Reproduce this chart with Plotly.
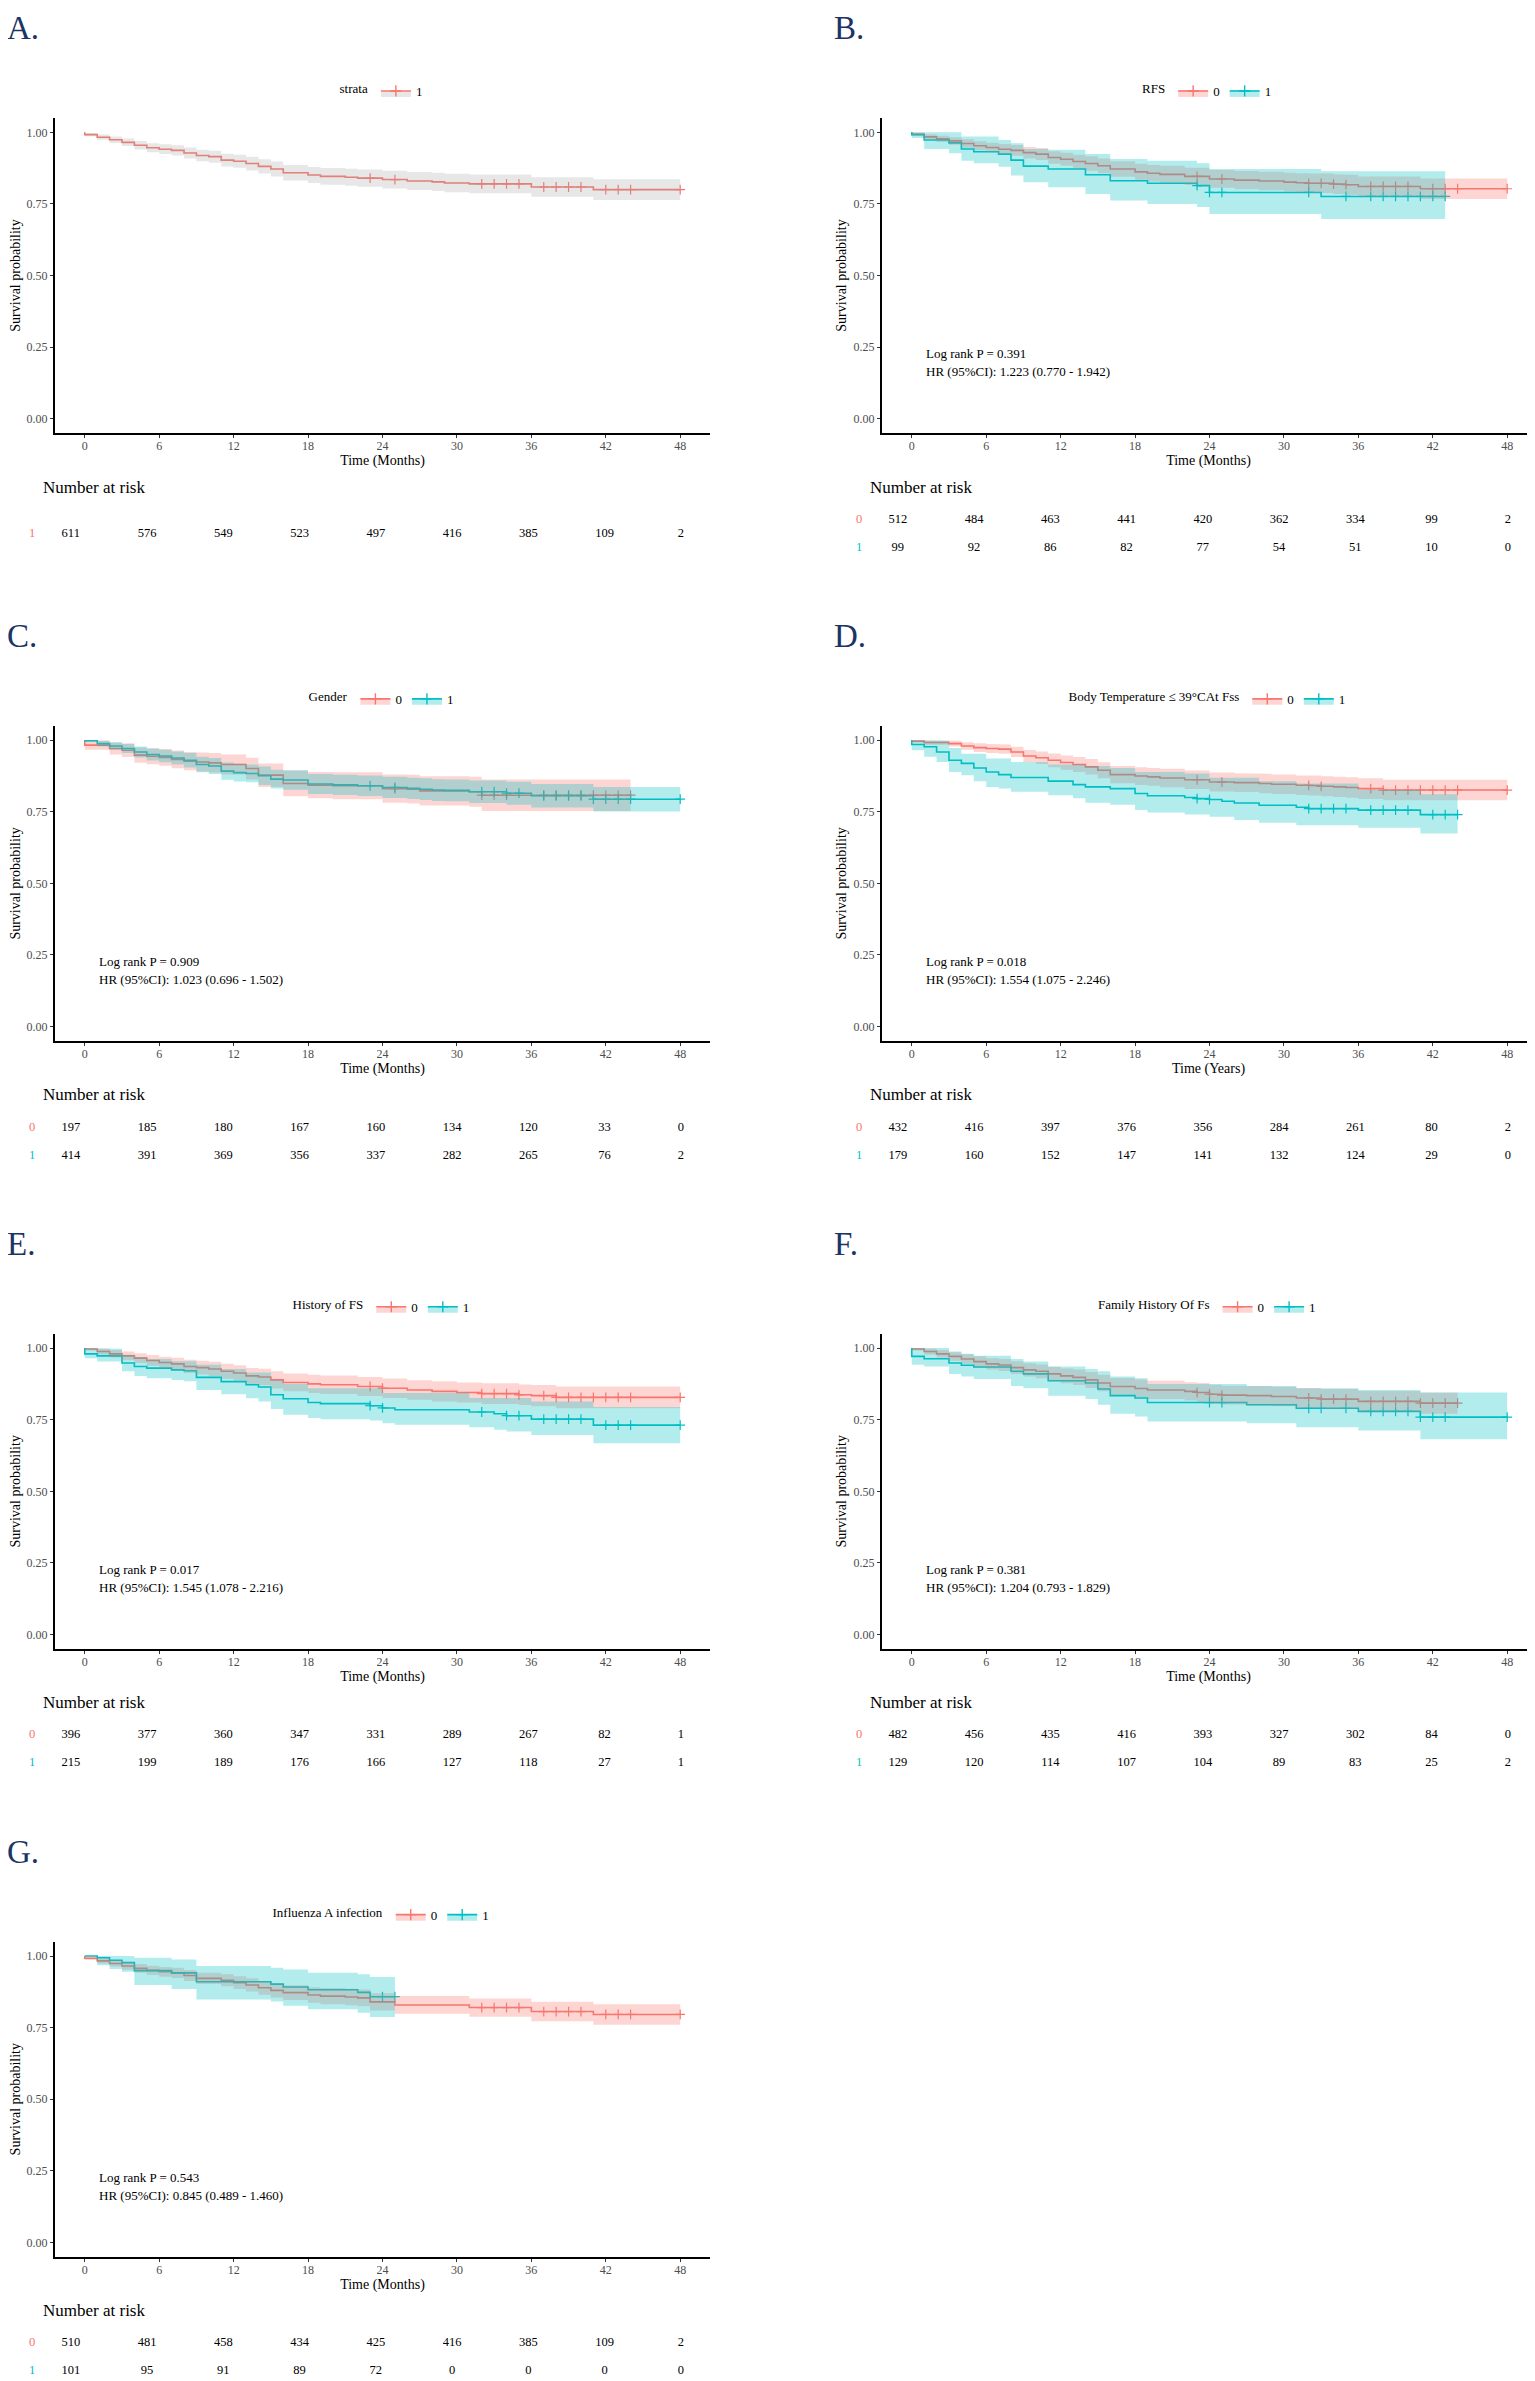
import plotly.graph_objects as go

# The page body has an 8px margin, so the figure is drawn 8px smaller and all pixel
# positions below are given in screen pixels and shifted by OFF.
OFF = 8
W, H = 1535 - OFF, 2381 - OFF
FONT = "Liberation Serif"
RED, TEAL = "#F8766D", "#00BFC4"
RED_FILL, TEAL_FILL, GRAY_FILL = "rgba(248,118,109,0.3)", "rgba(0,191,196,0.3)", "rgba(160,160,160,0.25)"

# ---------------- data ----------------
risk_times = [0, 6, 12, 18, 24, 30, 36, 42, 48]
y_tick_vals = [0, 0.25, 0.5, 0.75, 1.0]
y_tick_text = ["0.00", "0.25", "0.50", "0.75", "1.00"]

# A. strata 1
A_t = [0,1,2,3,4,5,6,7,8,9,10,11,12,13,14,15,16,18,19,21,22,24,26,28,29,31,36,41]
A_s = [.992,.983,.974,.965,.955,.946,.941,.937,.928,.919,.915,.903,.899,.891,.881,.872,.859,.851,.846,.843,.840,.835,.830,.827,.823,.820,.809,.800]
A_h = [.006,.009,.011,.013,.015,.016,.017,.018,.019,.020,.021,.022,.023,.024,.025,.026,.027,.028,.029,.030,.030,.031,.031,.032,.032,.033,.034,.036]
A_cens = [23,25,32,33,34,35,37,38,39,40,42,43,44,48]
A_risk = [611,576,549,523,497,416,385,109,2]

# B. RFS
B0_t = [0,1,2,3,4,5,6,7,8,9,10,11,12,13,14,15,16,18,19,20,22,24,26,28,30,31,32,34,35,36,41]
B0_s = [.993,.984,.977,.970,.961,.953,.947,.941,.937,.929,.924,.912,.906,.898,.891,.883,.872,.862,.857,.853,.846,.837,.833,.830,.826,.824,.822,.819,.817,.811,.803]
B0_h = [.006,.009,.011,.013,.015,.016,.017,.018,.019,.020,.021,.022,.023,.024,.025,.026,.027,.028,.029,.030,.030,.031,.032,.032,.033,.033,.034,.034,.035,.035,.036]
B0_cens = [23,25,32,33,34,35,37,38,39,40,42,43,44,48]
B0_risk = [512,484,463,441,420,362,334,99,2]
B1_t = [0,1,3,4,5,7,8,9,11,14,16,19,23,24,33]
B1_s = [.992,.973,.963,.942,.932,.924,.903,.882,.872,.852,.831,.822,.814,.790,.776]
B1_lo = [.980,.942,.927,.901,.892,.880,.849,.826,.808,.785,.762,.750,.739,.715,.697]
B1_hi = [1.0,1.0,1.0,.985,.985,.973,.962,.942,.939,.924,.907,.901,.892,.872,.864]
B1_cens = [23,24,25,32,35,37,38,39,40,41,42,43]
B1_risk = [99,92,86,82,77,54,51,10,0]

# C. Gender
C0_t = [0,2,3,4,5,6,7,8,9,10,11,13,14,16,18,20,24,26,27,31,32]
C0_s = [.983,.971,.965,.948,.944,.940,.933,.927,.924,.921,.915,.901,.878,.849,.843,.841,.831,.829,.823,.820,.808]
C0_h = [.016,.021,.024,.027,.028,.029,.031,.032,.033,.034,.035,.038,.041,.045,.046,.047,.049,.050,.051,.052,.055]
C0_cens = [25,32,33,34,37,38,39,40,41,42,43,44]
C0_risk = [197,185,180,167,160,134,120,33,0]
C1_t = [0,1,2,3,4,5,6,7,8,9,10,11,12,13,14,15,16,18,20,22,24,26,27,28,29,31,34,36,41]
C1_s = [.998,.988,.980,.971,.959,.950,.945,.938,.930,.915,.910,.892,.887,.884,.876,.864,.861,.847,.844,.841,.835,.832,.829,.826,.825,.820,.815,.806,.794]
C1_h = [.004,.010,.013,.016,.019,.021,.022,.023,.025,.027,.028,.030,.031,.031,.032,.033,.034,.035,.035,.036,.037,.037,.038,.038,.038,.039,.040,.041,.043]
C1_cens = [23,25,32,33,34,35,37,38,39,40,41,42,43,44,48]
C1_risk = [414,391,369,356,337,282,265,76,2]

# D. Body temperature
D0_t = [0,1,3,4,5,6,7,8,9,10,11,12,13,14,15,16,18,19,20,22,24,26,28,29,31,32,33,34,35,36,38]
D0_s = [.997,.992,.988,.980,.974,.971,.969,.959,.945,.939,.930,.922,.915,.907,.895,.880,.875,.872,.868,.862,.854,.852,.849,.846,.843,.842,.839,.837,.835,.831,.826]
D0_h = [.005,.008,.010,.013,.015,.016,.016,.018,.021,.022,.024,.025,.026,.027,.028,.030,.031,.031,.032,.032,.033,.033,.034,.034,.034,.035,.035,.035,.036,.036,.036]
D0_cens = [23,25,32,33,37,38,39,40,41,42,43,44,48]
D0_risk = [432,416,397,376,356,284,261,80,2]
D1_t = [0,1,2,3,4,5,6,7,8,11,13,14,16,18,19,22,23,24,25,26,28,31,32,36,41]
D1_s = [.985,.977,.959,.930,.919,.903,.889,.880,.870,.857,.845,.837,.831,.814,.806,.800,.796,.793,.787,.781,.773,.766,.761,.756,.740]
D1_lo = [.965,.942,.924,.889,.878,.857,.837,.831,.820,.808,.797,.782,.775,.756,.748,.741,.741,.733,.733,.721,.712,.703,.703,.694,.674]
D1_hi = [1.0,1.0,.998,.973,.953,.953,.936,.936,.924,.915,.915,.910,.903,.889,.889,.884,.884,.869,.869,.869,.857,.849,.849,.826,.811]
D1_cens = [23,24,32,33,34,35,37,38,39,40,42,43,44]
D1_risk = [179,160,152,147,141,132,124,29,0]

# E. History of FS
E0_t = [0,1,2,3,4,5,6,7,8,9,10,11,12,13,14,15,16,18,19,22,24,26,28,30,32,35,36,38]
E0_s = [.997,.988,.980,.973,.965,.957,.950,.945,.936,.932,.927,.919,.913,.903,.899,.889,.880,.875,.872,.866,.860,.854,.849,.845,.841,.837,.834,.828]
E0_h = [.005,.010,.013,.015,.017,.019,.020,.021,.023,.024,.025,.026,.027,.028,.029,.030,.031,.032,.032,.033,.034,.034,.035,.035,.036,.036,.037,.038]
E0_cens = [23,24,32,33,34,35,37,38,39,40,41,42,43,44,48]
E0_risk = [396,377,360,347,331,289,267,82,1]
E1_t = [0,1,3,4,5,7,8,9,11,13,14,15,16,18,19,23,24,25,31,33,34,36,41]
E1_s = [.980,.973,.948,.936,.930,.924,.921,.898,.883,.872,.864,.837,.823,.810,.806,.799,.791,.785,.777,.771,.764,.752,.731]
E1_lo = [.965,.953,.919,.903,.895,.889,.884,.854,.839,.825,.814,.787,.767,.756,.752,.747,.738,.732,.724,.715,.709,.697,.668]
E1_hi = [1.0,.998,.977,.969,.962,.954,.954,.942,.927,.915,.915,.889,.875,.860,.860,.860,.843,.843,.826,.826,.826,.814,.794]
E1_cens = [23,24,32,34,35,37,38,39,40,42,43,44,48]
E1_risk = [215,199,189,176,166,127,118,27,1]

# F. Family history of FS
F0_t = [0,1,2,3,4,5,6,7,8,9,10,11,12,13,14,15,16,18,19,22,23,24,25,27,29,31,33,36,41]
F0_s = [.997,.988,.980,.971,.962,.953,.945,.941,.932,.924,.919,.910,.903,.898,.889,.878,.866,.859,.854,.849,.845,.839,.836,.834,.831,.826,.822,.814,.808]
F0_h = [.005,.010,.013,.015,.017,.019,.020,.021,.022,.023,.024,.025,.026,.027,.028,.029,.030,.031,.032,.032,.033,.033,.033,.034,.034,.035,.035,.036,.037]
F0_cens = [23,24,25,32,33,34,35,37,38,39,40,41,42,43,44]
F0_risk = [482,456,435,416,393,327,302,84,0]
F1_t = [0,1,3,4,5,8,9,11,14,15,16,18,19,27,31,36,41]
F1_s = [.971,.963,.948,.940,.934,.919,.910,.886,.878,.857,.834,.826,.810,.802,.790,.779,.759]
F1_lo = [.942,.936,.910,.901,.892,.868,.860,.834,.822,.802,.771,.761,.744,.738,.724,.712,.682]
F1_hi = [1.0,1.0,.988,.980,.973,.962,.953,.936,.927,.919,.901,.895,.875,.868,.860,.854,.845]
F1_cens = [24,25,32,33,35,37,38,39,40,41,42,43,48]
F1_risk = [129,120,114,107,104,89,83,25,2]

# G. Influenza A infection
G0_t = [0,1,2,3,4,5,6,7,8,9,11,12,13,14,15,16,18,19,21,22,23,25,31,36,41]
G0_s = [.992,.983,.974,.965,.957,.950,.945,.941,.932,.922,.915,.907,.899,.889,.880,.872,.864,.860,.857,.854,.840,.829,.820,.806,.796]
G0_h = [.006,.009,.011,.013,.015,.016,.017,.018,.019,.020,.021,.022,.023,.024,.025,.026,.027,.028,.029,.029,.030,.031,.032,.034,.036]
G0_cens = [32,33,34,35,37,38,39,40,42,43,44,48]
G0_risk = [510,481,458,434,425,416,385,109,2]
G1_t = [1,2,3,4,7,9,15,16,18,22,23]
G1_s = [.994,.985,.977,.949,.941,.910,.902,.892,.882,.873,.858]
G1_lo = [.968,.955,.945,.899,.885,.848,.841,.826,.814,.802,.787]
G1_hi = [1.0,1.0,1.0,.994,.988,.965,.959,.953,.942,.936,.927]
G1_cens = [24,25]
G1_risk = [101,95,91,89,72,0,0,0,0]


def half_to_band(s, h):
    return [max(0.0, a - b) for a, b in zip(s, h)], [min(1.0, a + b) for a, b in zip(s, h)]


def grp(name, color, fill, t, s, lo, hi, cens, end, risk):
    return dict(name=name, color=color, fill=fill, t=t, s=s, lo=lo, hi=hi, cens=cens, end=end, risk=risk)


panels = [
    dict(letter="A.", title="strata", xlab="Time (Months)", row=0, col=0, stats=None,
         groups=[grp("1", RED, GRAY_FILL, A_t, A_s, *half_to_band(A_s, A_h), A_cens, 48, A_risk)]),
    dict(letter="B.", title="RFS", xlab="Time (Months)", row=0, col=1,
         stats=("Log rank P = 0.391", "HR (95%CI): 1.223 (0.770 - 1.942)"),
         groups=[grp("0", RED, RED_FILL, B0_t, B0_s, *half_to_band(B0_s, B0_h), B0_cens, 48, B0_risk),
                 grp("1", TEAL, TEAL_FILL, B1_t, B1_s, B1_lo, B1_hi, B1_cens, 43, B1_risk)]),
    dict(letter="C.", title="Gender", xlab="Time (Months)", row=1, col=0,
         stats=("Log rank P = 0.909", "HR (95%CI): 1.023 (0.696 - 1.502)"),
         groups=[grp("0", RED, RED_FILL, C0_t, C0_s, *half_to_band(C0_s, C0_h), C0_cens, 44, C0_risk),
                 grp("1", TEAL, TEAL_FILL, C1_t, C1_s, *half_to_band(C1_s, C1_h), C1_cens, 48, C1_risk)]),
    dict(letter="D.", title="Body Temperature ≤ 39°CAt Fss", xlab="Time (Years)", row=1, col=1,
         stats=("Log rank P = 0.018", "HR (95%CI): 1.554 (1.075 - 2.246)"),
         groups=[grp("0", RED, RED_FILL, D0_t, D0_s, *half_to_band(D0_s, D0_h), D0_cens, 48, D0_risk),
                 grp("1", TEAL, TEAL_FILL, D1_t, D1_s, D1_lo, D1_hi, D1_cens, 44, D1_risk)]),
    dict(letter="E.", title="History of FS", xlab="Time (Months)", row=2, col=0,
         stats=("Log rank P = 0.017", "HR (95%CI): 1.545 (1.078 - 2.216)"),
         groups=[grp("0", RED, RED_FILL, E0_t, E0_s, *half_to_band(E0_s, E0_h), E0_cens, 48, E0_risk),
                 grp("1", TEAL, TEAL_FILL, E1_t, E1_s, E1_lo, E1_hi, E1_cens, 48, E1_risk)]),
    dict(letter="F.", title="Family History Of Fs", xlab="Time (Months)", row=2, col=1,
         stats=("Log rank P = 0.381", "HR (95%CI): 1.204 (0.793 - 1.829)"),
         groups=[grp("0", RED, RED_FILL, F0_t, F0_s, *half_to_band(F0_s, F0_h), F0_cens, 44, F0_risk),
                 grp("1", TEAL, TEAL_FILL, F1_t, F1_s, F1_lo, F1_hi, F1_cens, 48, F1_risk)]),
    dict(letter="G.", title="Influenza A infection", xlab="Time (Months)", row=3, col=0,
         stats=("Log rank P = 0.543", "HR (95%CI): 0.845 (0.489 - 1.460)"),
         groups=[grp("0", RED, RED_FILL, G0_t, G0_s, *half_to_band(G0_s, G0_h), G0_cens, 48, G0_risk),
                 grp("1", TEAL, TEAL_FILL, G1_t, G1_s, G1_lo, G1_hi, G1_cens, 25, G1_risk)]),
]


def steps(t, v, end, start=1.0):
    xs, ys, prev = [0.0], [start], start
    for ti, vi in zip(t, v):
        xs += [ti, ti]
        ys += [prev, vi]
        prev = vi
    xs.append(end)
    ys.append(prev)
    return xs, ys


def surv_at(t, s, c):
    val = 1.0
    for ti, si in zip(t, s):
        if ti <= c:
            val = si
    return val


# ---------------- geometry (screen px) ----------------
PITCH = 607.9
COL_X = [55, 882]
COL_W = [655, 653]
PX_PER_MONTH = 12.405
TAB_PX_PER_MONTH = 12.71


def fx(px):
    return (px - OFF) / W


def fy(px):
    return 1 - (px - OFF) / H


fig = go.Figure()
layout = dict(width=W, height=H, margin=dict(l=0, r=0, t=0, b=0),
              paper_bgcolor="white", plot_bgcolor="white",
              font=dict(family=FONT, color="black"), showlegend=True, annotations=[])

for k, p in enumerate(panels):
    cx, pw = COL_X[p["col"]], COL_W[p["col"]]
    yt = 118 + p["row"] * PITCH
    mi, ti = 2 * k + 1, 2 * k + 2
    mx, my = f"x{mi}", f"y{mi}"
    tx, ty = f"x{ti}", f"y{ti}"
    leg = "legend" if k == 0 else f"legend{k + 1}"

    layout[f"xaxis{mi}"] = dict(
        domain=[fx(cx), min(1.0, fx(cx + pw))], range=[-2.4, -2.4 + pw / PX_PER_MONTH], anchor=my,
        showline=True, linecolor="black", linewidth=2, ticks="outside", ticklen=3, tickwidth=1,
        tickcolor="#333333", tickvals=risk_times, tickfont=dict(size=12, color="#4d4d4d"),
        ticklabelstandoff=-2,
        showgrid=False, zeroline=False, fixedrange=True,
        title=dict(text=p["xlab"], font=dict(size=14, color="black"), standoff=0))
    layout[f"yaxis{mi}"] = dict(
        domain=[fy(yt + 315), fy(yt)], range=[-0.05, 1.05], anchor=mx,
        showline=True, linecolor="black", linewidth=2, ticks="outside", ticklen=3, tickwidth=1,
        tickcolor="#333333", tickvals=y_tick_vals, ticktext=y_tick_text,
        tickfont=dict(size=12, color="#4d4d4d"), showgrid=False, zeroline=False, fixedrange=True,
        title=dict(text="Survival probability", font=dict(size=14, color="black"), standoff=4))
    tab_left = -1.24 - 35 / TAB_PX_PER_MONTH
    layout[f"xaxis{ti}"] = dict(domain=[fx(cx - 35), min(1.0, fx(cx + pw))],
                                range=[tab_left, -1.24 + pw / TAB_PX_PER_MONTH],
                                anchor=ty, visible=False, fixedrange=True)
    layout[f"yaxis{ti}"] = dict(domain=[fy(yt + 431.5), fy(yt + 399.5)],
                                range=[-2 / 28, 1 + 2 / 28],
                                anchor=tx, visible=False, fixedrange=True)

    # curves
    for g in p["groups"]:
        xs, ys = steps(g["t"], g["s"], g["end"])
        fig.add_trace(go.Scatter(x=xs, y=ys, mode="lines", line=dict(color=g["color"], width=1.6),
                                 xaxis=mx, yaxis=my, showlegend=False, hoverinfo="skip"))
    for g in p["groups"]:
        cy = [surv_at(g["t"], g["s"], c) for c in g["cens"]]
        fig.add_trace(go.Scatter(x=g["cens"], y=cy, mode="markers",
                                 marker=dict(symbol="cross-thin", size=7, color=g["color"],
                                             line=dict(color=g["color"], width=1.2)),
                                 xaxis=mx, yaxis=my, showlegend=False, hoverinfo="skip"))
    for g in p["groups"]:
        lx, ly = steps(g["t"], g["lo"], g["end"])
        ux, uy = steps(g["t"], g["hi"], g["end"])
        fig.add_trace(go.Scatter(x=lx + ux[::-1], y=ly + uy[::-1], mode="lines", fill="toself",
                                 fillcolor=g["fill"], line=dict(width=0), xaxis=mx, yaxis=my,
                                 showlegend=False, hoverinfo="skip"))
    # legend entries
    for g in p["groups"]:
        fig.add_trace(go.Scatter(x=[None], y=[None], mode="lines+markers", name=g["name"],
                                 line=dict(color=g["color"], width=1.6), fill="toself",
                                 fillcolor=g["fill"],
                                 marker=dict(symbol="cross-thin", size=8, color=g["color"],
                                             line=dict(color=g["color"], width=1.4)),
                                 xaxis=mx, yaxis=my, legend=leg, hoverinfo="skip"))
    layout[leg] = dict(orientation="h", x=fx(cx + pw / 2), xanchor="center", y=fy(yt - 27),
                       yanchor="middle", bgcolor="rgba(0,0,0,0)", font=dict(size=13, color="black"),
                       title=dict(text=p["title"], side="left", font=dict(size=13, color="black")),
                       itemwidth=30, tracegroupgap=0)

    # risk table
    rows = [0.5] if len(p["groups"]) == 1 else [1, 0]
    for g, r in zip(p["groups"], rows):
        fig.add_trace(go.Scatter(x=risk_times, y=[r] * len(risk_times), mode="text",
                                 text=[str(v) for v in g["risk"]], cliponaxis=False,
                                 textfont=dict(size=12.5, color="black", family=FONT),
                                 xaxis=tx, yaxis=ty, showlegend=False, hoverinfo="skip"))
        fig.add_trace(go.Scatter(x=[tab_left + 0.944], y=[r], mode="text", text=[g["name"]],
                                 cliponaxis=False,
                                 textfont=dict(size=12.5, color=g["color"], family=FONT),
                                 xaxis=tx, yaxis=ty, showlegend=False, hoverinfo="skip"))

    anns = layout["annotations"]
    anns.append(dict(text=p["letter"], x=fx(cx - 50), y=fy(yt - 110), xref="paper", yref="paper",
                     xanchor="left", yanchor="top", showarrow=False,
                     font=dict(size=33, color="#1c3464", family=FONT)))
    anns.append(dict(text="Number at risk", x=fx(cx - 14), y=fy(yt + 369), xref="paper",
                     yref="paper", xanchor="left", yanchor="middle", showarrow=False,
                     font=dict(size=17, color="black", family=FONT)))
    if p["stats"]:
        for txt, yv in zip(p["stats"], [0.228, 0.165]):
            anns.append(dict(text=txt, x=1.0, y=yv, xref=mx, yref=my, xanchor="left",
                             yanchor="middle", showarrow=False,
                             font=dict(size=13, color="black", family=FONT)))

fig.update_layout(**layout)
fig.write_html("out.html")
